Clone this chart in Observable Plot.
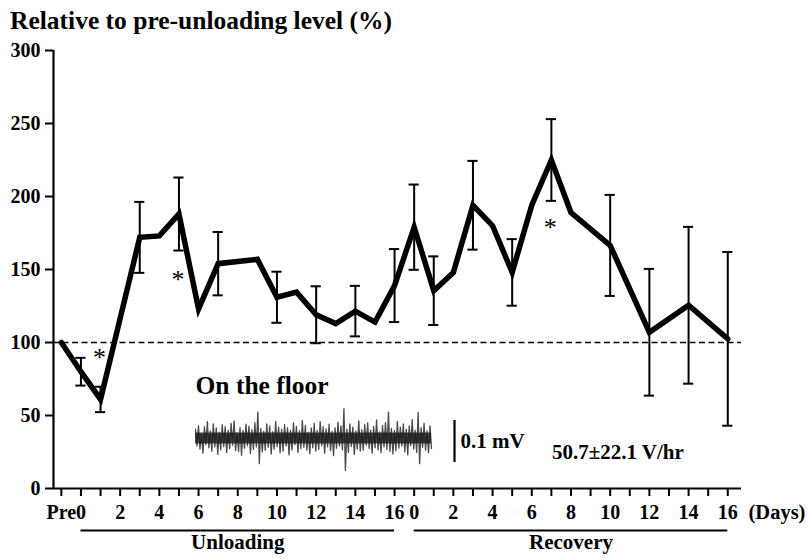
<!DOCTYPE html>
<html>
<head>
<meta charset="utf-8">
<script src="https://cdn.jsdelivr.net/npm/d3@7"></script>
<script src="https://cdn.jsdelivr.net/npm/@observablehq/plot@0.6"></script>
<style>
  body { margin: 0; background: #fff; }
  #wrap { position: relative; width: 808px; height: 559px; overflow: hidden; font-family: "Liberation Serif", "DejaVu Serif", serif; color: #000; }
  #title { position: absolute; left: 10px; top: 8px; font-size: 25.5px; line-height: 25.5px; font-weight: bold; white-space: nowrap; font-family: "Liberation Serif", "DejaVu Serif", serif; }
  #main { position: absolute; left: 0; top: 0; }
  #inset { position: absolute; left: 190px; top: 370px; }
  svg text { font-family: "Liberation Serif", "DejaVu Serif", serif; }
</style>
</head>
<body>
<div id="wrap">
  <div id="title">Relative to pre-unloading level (%)</div>
  <div id="main"></div>
  <div id="inset"></div>
</div>
<script>
// ---------- data ----------
const yTicks = [0, 50, 100, 150, 200, 250, 300];
const preMean = 100;

const unloadDays = [0, 1, 3, 4, 5, 6, 7, 9, 10, 11, 12, 13, 14, 15, 16];
const unloadMean = [80, 61, 172, 173, 188, 123, 154, 157, 131, 134.5, 119, 113, 121.5, 114, 139];
const unloadSem  = [9.5, 8.7, 24.3, null, 25, null, 21.7, null, 17.5, null, 19.5, null, 17.3, null, 25];

const recoveryDays = [0, 1, 2, 3, 4, 5, 6, 7, 8, 10, 12, 14, 16];
const recoveryMean = [179, 135.5, 148, 194, 180, 148, 194, 225, 189, 166.5, 107, 125.5, 102.5];
const recoverySem  = [29.2, 23.5, null, 30.4, null, 22.8, null, 28, null, 34.6, 43.4, 53.7, 59.5];

const phaseDays = d3.range(0, 17);          // 0..16 days in each phase
const phaseNames = ["Unloading", "Recovery"];
const preLabel = "Pre";
const daysLabel = "(Days)";

// significance marks (phase, day, label height in %)
const sigPhase = ["Unloading", "Unloading", "Recovery"];
const sigDay = [1, 5, 7];
const sigY = [92.5, 146, 181.7];

// EMG sample trace "On the floor" (µV)
const emgTrace = [
  22,-18,30,-25,12,-35,28,-15,40,-22,18,-30,35,-20,25,-38,15,-27,33,-19,
  28,-33,20,-24,36,-16,42,-29,14,-31,26,-40,19,-23,34,-17,29,-36,21,-26,
  38,-20,63,-60,24,-32,17,-28,35,-21,30,-37,16,-25,41,-19,27,-34,22,-30,
  33,-18,26,-39,20,-27,37,-15,29,-33,18,-24,43,-21,31,-28,15,-36,25,-22,
  36,-30,19,-26,40,-17,28,-35,23,-20,34,-29,17,-41,26,-23,39,-18,30,-27,
  71,-76,22,-33,35,-19,27,-38,18,-25,42,-30,21,-28,33,-16,37,-24,20,-35,
  29,-22,44,-27,16,-34,31,-20,38,-26,63,-31,24,-37,19,-29,41,-23,27,-18,
  35,-32,22,-39,30,-17,45,-25,20,-33,62,-60,26,-21,36,-28,18,-34,30,-24
];
const emgCoreUV = 13;           // half-height of the dense dark core of the trace
const emgLabel = "On the floor";
const scaleBarUV = 100;         // 0.1 mV
const scaleBarLabel = "0.1 mV";
const rateLabel = "50.7±22.1 V/hr";

// ---------- build tables ----------
const idxOf = (phase, day) => phase === "Pre" ? 0 : phase === "Unloading" ? day + 1 : day + 18;

const points = [
  {idx: 0, mean: preMean, sem: null},
  ...unloadDays.map((d, i) => ({idx: idxOf("Unloading", d), mean: unloadMean[i], sem: unloadSem[i]})),
  ...recoveryDays.map((d, i) => ({idx: idxOf("Recovery", d), mean: recoveryMean[i], sem: recoverySem[i]}))
];
const bars = points.filter(d => d.sem != null);

const ticks = [{idx: 0, label: preLabel}];
for (const p of phaseNames) for (const d of phaseDays) ticks.push({idx: idxOf(p, d), label: d % 2 === 0 ? String(d) : ""});
const labelByIdx = new Map(ticks.map(t => [t.idx, t.label]));

const phases = phaseNames.map(p => ({
  name: p,
  start: idxOf(p, phaseDays[0]),
  end: idxOf(p, phaseDays[phaseDays.length - 1]),
  mid: idxOf(p, (phaseDays[0] + phaseDays[phaseDays.length - 1]) / 2)
}));

const sig = sigPhase.map((p, i) => ({idx: idxOf(p, sigDay[i]), y: sigY[i]}));

const xDomain = [-0.4, 34.7];
const font = "'Liberation Serif', 'DejaVu Serif', serif";

// ---------- main chart ----------
const chart = Plot.plot({
  width: 808,
  height: 559,
  marginTop: 50,
  marginBottom: 71,
  marginLeft: 53,
  marginRight: 67,
  style: {fontFamily: font, fontSize: "20px", fontWeight: "bold", background: "transparent", overflow: "visible", color: "#000"},
  x: {type: "linear", domain: xDomain, label: null},
  y: {type: "linear", domain: [0, 300], label: null},
  marks: [
    Plot.ruleY([100], {x1: () => xDomain[0], x2: () => xDomain[1], strokeDasharray: "6,3.5", strokeWidth: 1.6, stroke: "#000"}),
    Plot.ruleX([xDomain[0]], {y1: () => 0, y2: () => 300, strokeWidth: 2.2, stroke: "#000"}),
    Plot.ruleY([0], {x1: () => xDomain[0], x2: () => xDomain[1], strokeWidth: 2.2, stroke: "#000"}),
    Plot.axisY({ticks: yTicks, tickSize: 8, tickPadding: 5, strokeWidth: 2, stroke: "#000", fill: "#000", tickFormat: d => String(d), fontSize: 20, fontWeight: "bold", fontFamily: font}),
    Plot.axisX({ticks: ticks.map(t => t.idx), tickSize: 8, tickPadding: 8, strokeWidth: 2, stroke: "#000", fill: "#000", tickFormat: i => labelByIdx.get(i) ?? "", fontSize: 20, fontWeight: "bold", fontFamily: font}),
    Plot.line(points, {x: "idx", y: "mean", stroke: "#000", strokeWidth: 5.5, strokeLinejoin: "miter", strokeMiterlimit: 6}),
    Plot.ruleX(bars, {x: "idx", y1: d => d.mean - d.sem, y2: d => d.mean + d.sem, stroke: "#000", strokeWidth: 2}),
    Plot.ruleY(bars, {y: d => d.mean + d.sem, x1: d => d.idx - 0.26, x2: d => d.idx + 0.26, stroke: "#000", strokeWidth: 2}),
    Plot.ruleY(bars, {y: d => d.mean - d.sem, x1: d => d.idx - 0.26, x2: d => d.idx + 0.26, stroke: "#000", strokeWidth: 2}),
    Plot.text(sig, {x: "idx", y: "y", text: () => "*", fill: "#000", fontSize: 26, fontWeight: "normal", fontFamily: font, dy: 4, dx: -1}),
    Plot.ruleY(phases, {y: () => 0, x1: "start", x2: "end", dy: 42, stroke: "#000", strokeWidth: 2}),
    Plot.text(phases, {x: "mid", y: () => 0, text: "name", fill: "#000", dy: 60, lineAnchor: "bottom", fontSize: 21, fontWeight: "bold", fontFamily: font}),
    Plot.text([daysLabel], {x: () => xDomain[1], y: () => 0, text: d => d, fill: "#000", dx: 7, dy: 30, textAnchor: "start", lineAnchor: "bottom", fontSize: 20.5, fontWeight: "bold", fontFamily: font}),
    Plot.text([rateLabel], {x: () => 25.03, y: () => 20.3, text: d => d, fill: "#000", textAnchor: "start", lineAnchor: "bottom", fontSize: 21, fontWeight: "bold", fontFamily: font})
  ]
});
document.getElementById("main").appendChild(chart);

// ---------- inset EMG trace ----------
const inset = Plot.plot({
  width: 340,
  height: 110,
  margin: 0,
  style: {fontFamily: font, fontSize: "20px", fontWeight: "bold", background: "transparent", overflow: "visible", color: "#000"},
  x: {type: "linear", domain: [0, emgTrace.length - 1], range: [5, 241], axis: null},
  y: {type: "linear", domain: [-100, 100], range: [110, 26], axis: null},
  marks: [
    Plot.text([emgLabel], {x: () => 0, y: () => 107, text: d => d, fill: "#000", textAnchor: "start", lineAnchor: "bottom", fontSize: 25.5, fontWeight: "bold", fontFamily: font}),
    Plot.line(emgTrace, {x: (d, i) => i, y: d => d, stroke: "#4a4a4a", strokeWidth: 1.3}),
    Plot.areaY(emgTrace, {x: (d, i) => i, y1: () => -emgCoreUV, y2: () => emgCoreUV, fill: "#1c1c1c", fillOpacity: 0.8}),
    Plot.ruleX([174.5], {y1: () => -57, y2: () => -57 + scaleBarUV, stroke: "#000", strokeWidth: 2.2}),
    Plot.text([scaleBarLabel], {x: () => 178.5, y: () => -23.8, text: d => d, fill: "#000", textAnchor: "start", lineAnchor: "bottom", fontSize: 21, fontWeight: "bold", fontFamily: font})
  ]
});
document.getElementById("inset").appendChild(inset);
</script>
</body>
</html>
